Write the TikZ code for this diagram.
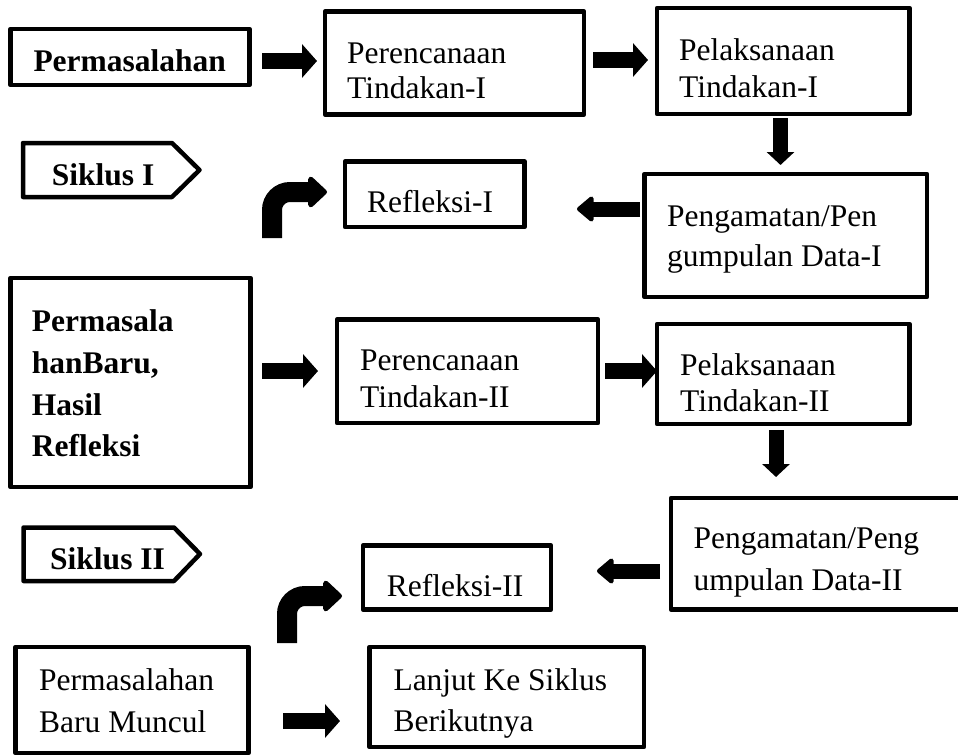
\documentclass[tikz,border=0pt]{standalone}
\usepackage{fontspec}
\setmainfont{Liberation Serif}
\usetikzlibrary{arrows.meta,fit}
\tikzset{
  box/.style={draw, line width=4.5pt, line join=round, inner sep=0pt},
  txt/.style={inner sep=0pt, anchor=base west, font=\fontsize{31.5pt}{36pt}\selectfont},
  btxt/.style={txt, font=\fontsize{31.5pt}{36pt}\selectfont\bfseries},
  blk/.style={line width=16pt, -{Triangle[length=15pt,width=33pt]}},
  blkv/.style={line width=15pt, -{Triangle[length=13pt,width=27pt]}},
  blkl/.style={line width=15pt, -{Triangle[length=18pt,width=29pt,round]}},
  bentarrow/.style={line width=20pt, rounded corners=18pt, -{Triangle[length=20pt,width=36pt,round]}}
}
\begin{document}
\begin{tikzpicture}[x=1pt,y=-1pt]
\useasboundingbox (0,0) rectangle (958,755);
\clip (0,0) rectangle (958,755);
\fill[white] (0,0) rectangle (958,755);

% boxes
\node[box, fit={(10.5,29) (249.5,85)}] (perm) {};
\node[box, fit={(325,11.5) (584,114.5)}] (pr1) {};
\node[box, fit={(657,8) (909.5,114)}] (pl1) {};
\node[box, fit={(345,161.5) (524.5,227)}] (ref1) {};
\node[box, fit={(644.5,174) (927,297)}] (pg1) {};
\node[box, fit={(10.5,278) (250.5,487)}] (pb) {};
\node[box, fit={(337,319.5) (598,423)}] (pr2) {};
\node[box, fit={(657,324) (909.5,424)}] (pl2) {};
\node[box, fit={(671,498) (975,609.5)}] (pg2) {};
\node[box, fit={(363,545.5) (551,609.5)}] (ref2) {};
\node[box, fit={(15.5,647) (248.5,753)}] (pbm) {};
\node[box, fit={(369.5,647) (644,747)}] (lanjut) {};

% siklus tags
\draw[box] (23,143) -- (172,143) -- (199.5,170) -- (172,197) -- (23,197) -- cycle;
\draw[box] (23.5,527.5) -- (174,527.5) -- (200,554) -- (174,581) -- (23.5,581) -- cycle;

% texts
\node[btxt] (t1) at (33.3,71.7) {Permasalahan};
\node[txt] (t2a) at (347,63.3) {Perencanaan};
\node[txt] (t2b) at (347,98.3) {Tindakan-I};
\node[txt] (t3a) at (679,60) {Pelaksanaan};
\node[txt] (t3b) at (679,97) {Tindakan-I};
\node[btxt] (s1) at (51.7,185) {Siklus I};
\node[txt] (t4) at (367,212) {Refleksi-I};
\node[txt] (t5a) at (667,226.7) {Pengamatan/Pen};
\node[txt] (t5b) at (667,266.7) {gumpulan Data-I};
\node[btxt] (t6a) at (31.7,331.7) {Permasala};
\node[btxt] (t6b) at (31.7,373.3) {hanBaru,};
\node[btxt] (t6c) at (31.7,415) {Hasil};
\node[btxt] (t6d) at (31.7,456.7) {Refleksi};
\node[txt] (t7a) at (360,370) {Perencanaan};
\node[txt] (t7b) at (360,407.3) {Tindakan-II};
\node[txt] (t8a) at (680,375) {Pelaksanaan};
\node[txt] (t8b) at (680,411.7) {Tindakan-II};
\node[btxt] (s2) at (50,569) {Siklus II};
\node[txt] (t9a) at (693.3,548.3) {Pengamatan/Peng};
\node[txt] (t9b) at (693.3,590) {umpulan Data-II};
\node[txt] (t10) at (386.7,596.7) {Refleksi-II};
\node[txt] (t11a) at (39,690) {Permasalahan};
\node[txt] (t11b) at (39,732) {Baru Muncul};
\node[txt] (t12a) at (393.3,690) {Lanjut Ke Siklus};
\node[txt] (t12b) at (393.3,731.7) {Berikutnya};

% arrow end points
\coordinate (a1s) at (262,61);   \coordinate (a1e) at (317,61);
\coordinate (a2s) at (593,60);   \coordinate (a2e) at (648,60);
\coordinate (d1s) at (780.5,118); \coordinate (d1e) at (780.5,165);
\coordinate (l1s) at (640,209);  \coordinate (l1e) at (577,209);
\coordinate (a3s) at (262,371);  \coordinate (a3e) at (318,371);
\coordinate (a4s) at (605,371);  \coordinate (a4e) at (657,371);
\coordinate (d2s) at (776,430);  \coordinate (d2e) at (776,477);
\coordinate (l2s) at (660,571);  \coordinate (l2e) at (597,571);
\coordinate (a5s) at (283,721);  \coordinate (a5e) at (340,721);
\coordinate (c1s) at (272,238);  \coordinate (c1m) at (272,192); \coordinate (c1e) at (327,192);
\coordinate (c2s) at (287,643);  \coordinate (c2m) at (287,596); \coordinate (c2e) at (342,596);

\draw[blk] (a1s) -- (a1e);
\draw[blk] (a2s) -- (a2e);
\draw[blkv] (d1s) -- (d1e);
\draw[blkl] (l1s) -- (l1e);
\draw[blk] (a3s) -- (a3e);
\draw[blk] (a4s) -- (a4e);
\draw[blkv] (d2s) -- (d2e);
\draw[blkl] (l2s) -- (l2e);
\draw[blk] (a5s) -- (a5e);
\draw[bentarrow] (c1s) -- (c1m) -- (c1e);
\draw[bentarrow] (c2s) -- (c2m) -- (c2e);
\end{tikzpicture}
\end{document}
